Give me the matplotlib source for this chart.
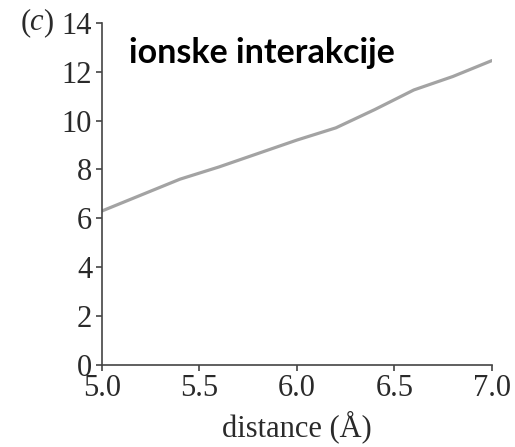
import matplotlib
matplotlib.use("Agg")
import matplotlib.pyplot as plt

# values
distance = [5.0, 5.2, 5.4, 5.6, 5.8, 6.0, 6.2, 6.4, 6.6, 6.8, 7.0]
energy = [6.3, 6.95, 7.6, 8.1, 8.65, 9.2, 9.7, 10.45, 11.25, 11.8, 12.45]
x_ticks = [5.0, 5.5, 6.0, 6.5, 7.0]
y_ticks = [0, 2, 4, 6, 8, 10, 12, 14]

AXIS_COLOR = "#444444"
TEXT_COLOR = "#2a2a2a"
FS = 22

plt.rcParams["font.family"] = ["Liberation Serif", "DejaVu Serif"]

fig = plt.figure(figsize=(5.15, 4.47), dpi=100)
ax = fig.add_axes([0.198, 0.1834, 0.757, 0.7658])

ax.plot(distance, energy, color="#a3a3a3", linewidth=2.3, solid_capstyle="round")

ax.set_xlim(5.0, 7.0)
ax.set_ylim(0, 14)
ax.set_xticks(x_ticks)
ax.set_xticklabels([f"{t:.1f}" for t in x_ticks])
ax.set_yticks(y_ticks)
ax.set_yticklabels([str(t) for t in y_ticks])

for side in ("top", "right"):
    ax.spines[side].set_visible(False)
for side in ("left", "bottom"):
    ax.spines[side].set_color(AXIS_COLOR)
    ax.spines[side].set_linewidth(1.2)

ax.tick_params(axis="both", direction="out", length=4, width=1.2,
               color=AXIS_COLOR, labelcolor=TEXT_COLOR, labelsize=FS)
ax.tick_params(axis="x", pad=2.5)
ax.tick_params(axis="y", pad=3)

ax.set_xlabel("distance (Å)", fontsize=FS, color=TEXT_COLOR, labelpad=5)

ax.text(0.069, 0.882, "ionske interakcije", transform=ax.transAxes,
        family=["Lato", "DejaVu Sans"], fontweight="bold", fontsize=24.5,
        color="black", va="baseline", ha="left")

fig.text(0.040, 0.949, "(", fontsize=FS, color=TEXT_COLOR, va="center", ha="left")
fig.text(0.057, 0.949, "c", fontsize=FS, style="italic", color=TEXT_COLOR,
         va="center", ha="left")
fig.text(0.084, 0.949, ")", fontsize=FS, color=TEXT_COLOR, va="center", ha="left")

fig.savefig("out.png", dpi=100)
